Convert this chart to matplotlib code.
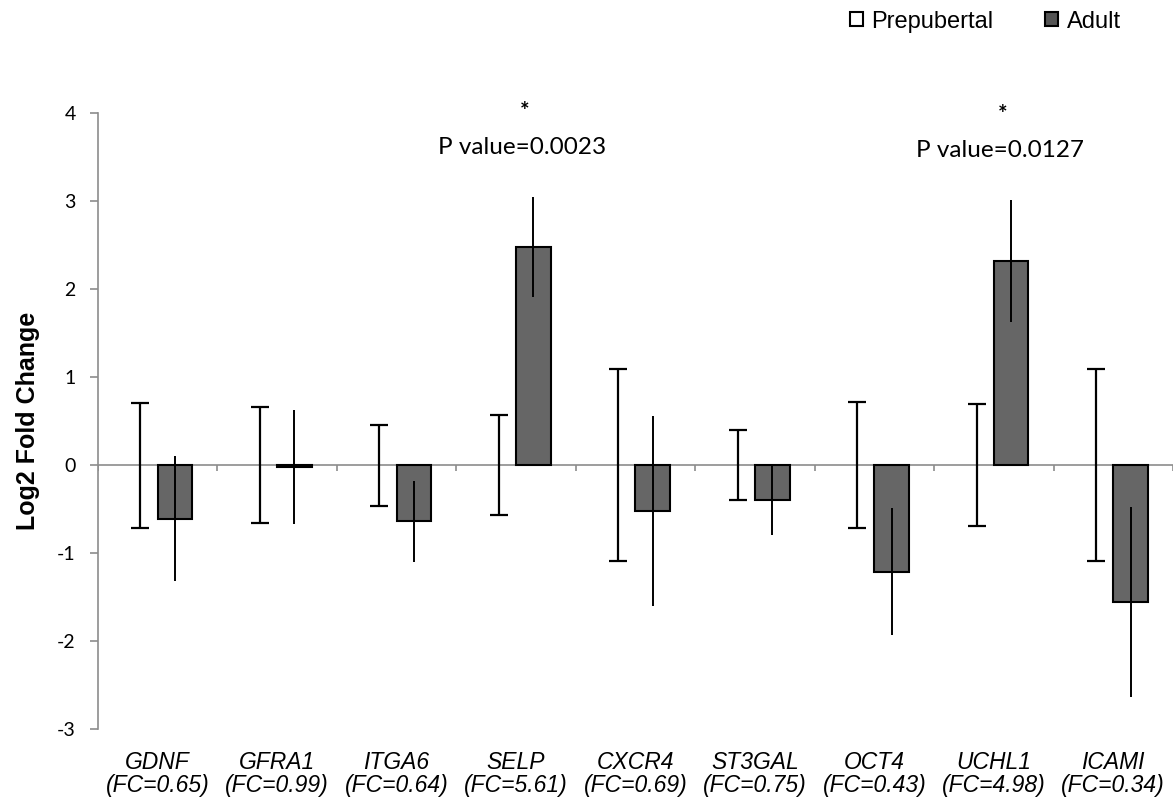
import matplotlib
matplotlib.use("Agg")
import matplotlib.pyplot as plt
from matplotlib.patches import Patch
import numpy as np

genes = ["GDNF", "GFRA1", "ITGA6", "SELP", "CXCR4", "ST3GAL", "OCT4", "UCHL1", "ICAMI"]
fold_change = ["0.65", "0.99", "0.64", "5.61", "0.69", "0.75", "0.43", "4.98", "0.34"]
prepubertal = [0, 0, 0, 0, 0, 0, 0, 0, 0]
prepubertal_err = [0.71, 0.66, 0.46, 0.57, 1.09, 0.40, 0.72, 0.69, 1.09]
adult = [-0.61, -0.02, -0.64, 2.48, -0.52, -0.40, -1.21, 2.32, -1.56]
adult_err = [0.71, 0.65, 0.46, 0.57, 1.08, 0.40, 0.72, 0.69, 1.08]
# significant genes: index, p value
signif = [(3, "0.0023"), (7, "0.0127")]
ticks_y = [-3, -2, -1, 0, 1, 2, 3, 4]

fig = plt.figure(figsize=(11.73, 8.02), dpi=100)
ax = fig.add_axes([0.0835, 0.091, 0.9165, 0.768])

x = np.arange(len(genes))
w = 0.29
# prepubertal bars are all zero -> invisible, only error bars with caps
ax.bar(x - w / 2, prepubertal, w, color="white", linewidth=0)
ax.errorbar(x - w / 2, prepubertal, yerr=prepubertal_err, fmt="none",
            ecolor="black", elinewidth=1.6, capsize=6.5, capthick=1.6, zorder=3)
ax.bar(x + w / 2, adult, w, color="#666666", edgecolor="black", linewidth=1.5, zorder=2)
ax.errorbar(x + w / 2, adult, yerr=adult_err, fmt="none",
            ecolor="black", elinewidth=1.4, capsize=0, zorder=3)

ax.axhline(0, color="#8c8c8c", linewidth=1.2, zorder=1)
# small ticks at group boundaries on the zero line
ax.vlines(np.arange(len(genes) + 1) - 0.5, 0, -0.07, color="#8c8c8c", linewidth=1.2, zorder=1)

for i, p in signif:
    top = adult[i] + adult_err[i]
    ax.text(i + 0.05, top + 0.56, "P value=" + p, ha="center", va="center",
            fontsize=17.5, family="Lato")
    ax.text(i + 0.07, top + 0.97, "*", ha="center", va="center",
            fontsize=16, family="Lato", fontweight="bold")

ax.set_xlim(-0.5, len(genes) - 0.5)
ax.set_ylim(-3, 4)
ax.set_yticks(ticks_y)
ax.set_yticklabels([str(t) for t in ticks_y], family="Lato", fontsize=14)
ax.tick_params(axis="y", direction="out", length=6, width=1.2, color="#8c8c8c", pad=10)
ax.set_xticks(x)
ax.set_xticklabels([g + "\n(FC=" + f + ")" for g, f in zip(genes, fold_change)],
                   family="Liberation Sans", style="italic", fontsize=16.5, linespacing=1.0)
ax.tick_params(axis="x", length=0, pad=16)
for s in ["top", "right", "bottom"]:
    ax.spines[s].set_visible(False)
ax.spines["left"].set_color("#8c8c8c")
ax.spines["left"].set_linewidth(1.2)

ax.set_ylabel("Log2 Fold Change", family="Liberation Sans", fontweight="bold", fontsize=18, labelpad=12)

handles = [Patch(facecolor="white", edgecolor="black", linewidth=1.5),
           Patch(facecolor="#555555", edgecolor="black", linewidth=1.5)]
fig.legend(handles, ["Prepubertal", "Adult"], loc="center", bbox_to_anchor=(0.84, 0.973),
           ncol=2, frameon=False, handlelength=0.55, handleheight=0.55, handletextpad=0.35,
           columnspacing=2.2, prop={"family": "Liberation Sans", "size": 17})

fig.savefig("out.png", dpi=100, facecolor="white")
